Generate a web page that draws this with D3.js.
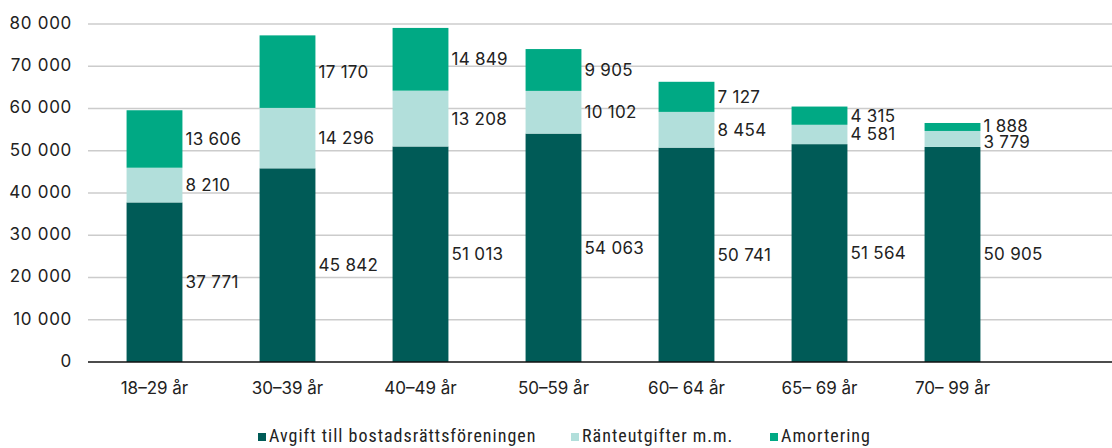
<!DOCTYPE html>
<html lang="sv">
<head>
  <meta charset="UTF-8">
  <title>Boendekostnad per åldersgrupp</title>
  <script src="https://d3js.org/d3.v7.min.js"></script>
  <style>
    body { margin: 0; background: #fff; }
    svg { display: block; }
  </style>
</head>
<body>
  <div class="chart"></div>
  <script>
    const categories = ['18–29 år', '30–39 år', '40–49 år', '50–59 år', '60– 64 år', '65– 69 år', '70– 99 år'];
    const avgift = [37771, 45842, 51013, 54063, 50741, 51564, 50905];
    const ranta = [8210, 14296, 13208, 10102, 8454, 4581, 3779];
    const amort = [13606, 17170, 14849, 9905, 7127, 4315, 1888];
    const seriesNames = ['Avgift till bostadsrättsföreningen', 'Ränteutgifter m.m.', 'Amortering'];
    const yTicks = [0, 10000, 20000, 30000, 40000, 50000, 60000, 70000, 80000];

    const colors = ['#005b57', '#b2dfdb', '#00a984'];
    const W = 1112, H = 448;
    const plotLeft = 88, plotRight = 1112, plotTop = 24, plotBottom = 362;
    const numFont = 'Inter, "Open Sans", sans-serif';
    const legFont = '"Liberation Sans Narrow", "Roboto Condensed", Roboto, sans-serif';

    const fmt = d3.formatLocale({ decimal: ',', thousands: ' ', grouping: [3], currency: ['', ' kr'] }).format(',d');

    const rows = categories.map((c, i) => ({ cat: c, s0: avgift[i], s1: ranta[i], s2: amort[i] }));
    const stack = d3.stack().keys(['s0', 's1', 's2'])(rows);

    const svg = d3.select('.chart').append('svg').attr('width', W).attr('height', H);

    const x = d3.scaleBand().domain(categories).range([plotLeft, plotLeft + 7 * 133])
      .paddingInner(0.58).paddingOuter(0.29);
    const y = d3.scaleLinear().domain([0, 80000]).range([plotBottom, plotTop]);

    // grid
    svg.append('g').selectAll('line').data(yTicks.slice(1)).join('line')
      .attr('x1', plotLeft).attr('x2', plotRight)
      .attr('y1', d => y(d)).attr('y2', d => y(d))
      .attr('stroke', '#cccccc').attr('stroke-width', 1.5);

    svg.append('g').selectAll('text').data(yTicks).join('text')
      .attr('x', 72).attr('y', d => y(d) - 1).attr('dy', '0.35em')
      .attr('text-anchor', 'end').attr('font-family', numFont).attr('font-size', 17)
      .attr('letter-spacing', 0.7).attr('fill', '#222').text(d => fmt(d));

    // bars
    stack.forEach((layer, k) => {
      svg.append('g').attr('fill', colors[k]).selectAll('rect').data(layer).join('rect')
        .attr('x', d => x(d.data.cat)).attr('width', x.bandwidth())
        .attr('y', d => y(d[1])).attr('height', d => y(d[0]) - y(d[1]));
    });

    // value labels, nudged apart when segments are thin
    categories.forEach((c, i) => {
      const pos = stack.map(layer => (y(layer[i][0]) + y(layer[i][1])) / 2);
      for (let k = 1; k < pos.length; k++) {
        if (pos[k - 1] - pos[k] < 16) {
          const mid = (pos[k - 1] + pos[k]) / 2;
          pos[k - 1] = mid + 9;
          pos[k] = mid - 7;
        }
      }
      stack.forEach((layer, k) => {
        svg.append('text')
          .attr('x', x(c) + x.bandwidth() + 3).attr('y', pos[k]).attr('dy', '0.35em')
          .attr('font-family', numFont).attr('font-size', 17).attr('letter-spacing', 0.3)
          .attr('fill', '#222').text(fmt(layer[i].data['s' + k]));
      });
    });

    // baseline
    svg.append('line').attr('x1', plotLeft).attr('x2', plotRight)
      .attr('y1', y(0)).attr('y2', y(0)).attr('stroke', '#111').attr('stroke-width', 1.5);

    // category labels
    svg.append('g').selectAll('text').data(categories).join('text')
      .attr('x', d => x(d) + x.bandwidth() / 2).attr('y', 388).attr('dy', '0.35em')
      .attr('text-anchor', 'middle').attr('font-family', numFont).attr('font-size', 17)
      .attr('fill', '#222').text(d => d);

    // legend
    const legX = [258, 571, 770];
    const leg = svg.append('g').selectAll('g').data(seriesNames).join('g')
      .attr('transform', (d, i) => `translate(${legX[i]}, 436)`);
    leg.append('rect').attr('x', 0).attr('y', -3).attr('width', 8).attr('height', 8)
      .attr('fill', (d, i) => colors[i]);
    leg.append('text').attr('x', 11).attr('y', 0).attr('dy', '0.35em')
      .attr('font-family', legFont).attr('font-size', 18).attr('letter-spacing', 1)
      .attr('fill', '#222').text(d => d);
  </script>
</body>
</html>
